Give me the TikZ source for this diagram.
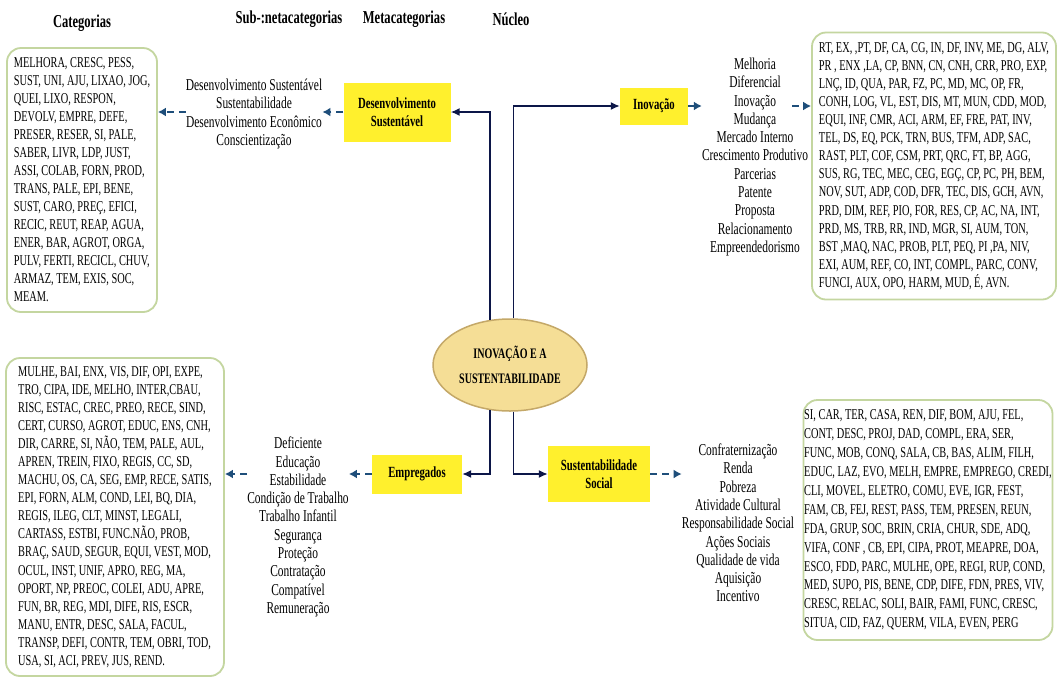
\documentclass[tikz,border=0pt]{standalone}
\usepackage{fontspec}
\setmainfont{Liberation Serif}[FakeStretch=0.69]
\usetikzlibrary{arrows.meta,shapes.geometric}

\definecolor{amarelo}{RGB}{255,240,45}
\definecolor{bege}{RGB}{245,222,150}
\definecolor{begeBorda}{RGB}{196,168,104}
\definecolor{verdeBorda}{RGB}{196,214,160}
\definecolor{azulEscuro}{RGB}{12,22,72}
\definecolor{azulSeta}{RGB}{30,78,122}

\newcommand{\fonteLista}[1]{\fontsize{15}{#1}\selectfont}

\tikzset{
  categoria/.style={draw=verdeBorda, line width=1.8pt, rounded corners=14pt, fill=white, align=left, inner sep=0pt},
  meta/.style={fill=amarelo, align=center, inner sep=0pt, font=\fontsize{15.5}{18}\selectfont\bfseries},
  subcat/.style={align=center, inner sep=0pt, font=\fontsize{16.6}{18.3}\selectfont},
  titulo/.style={font=\fontsize{18.2}{20}\selectfont\bfseries},
  elo/.style={draw=azulEscuro, line width=1.5pt, -{Latex[length=9pt,width=8pt]}},
  seta/.style={draw=azulSeta, line width=2pt, dash pattern=on 7pt off 5pt, -{Latex[length=8pt,width=9pt]}},
}

\begin{document}
\begin{tikzpicture}[x=1pt,y=-1pt]
\fill[white] (0,0) rectangle (1060,678);
\useasboundingbox (0,0) rectangle (1060,678);

% titulos
\node[titulo] (tCat) at (82,23) {Categorias};
\node[titulo] (tSub) at (289,19) {Sub-:netacategorias};
\node[titulo] (tMeta) at (404,19) {Metacategorias};
\node[titulo] (tNucleo) at (511,19) {Núcleo};

% nucleo
\node[ellipse, draw=begeBorda, line width=1.5pt, fill=bege, minimum width=154pt, minimum height=92pt, inner sep=0pt, align=center, font=\fontsize{14.5}{25}\selectfont\bfseries] (nucleo) at (510,365) {INOVAÇÃO E A\\SUSTENTABILIDADE};

% metacategorias
\node[meta, minimum width=107pt, minimum height=59pt] (desenv) at (397,112) {Desenvolvimento\\Sustentável};
\node[meta, minimum width=68pt, minimum height=37pt] (inov) at (654,106) {Inovação};
\node[meta, minimum width=90pt, minimum height=39pt] (empreg) at (417,474) {Empregados};
\node[meta, minimum width=102pt, minimum height=56pt] (sustsoc) at (599,474) {Sustentabilidade\\Social};

% sub-metacategorias
\node[subcat] (subDesenv) at (254,114) {Desenvolvimento Sustentável\\Sustentabilidade\\Desenvolvimento Econômico\\Conscientização};
\node[subcat] (subInov) at (755,157) {Melhoria\\Diferencial\\Inovação\\Mudança\\Mercado Interno\\Crescimento Produtivo\\Parcerias\\Patente\\Proposta\\Relacionamento\\Empreendedorismo};
\node[subcat] (subEmpreg) at (298,527) {Deficiente\\Educação\\Estabilidade\\Condição de Trabalho\\Trabalho Infantil\\Segurança\\Proteção\\Contratação\\Compatível\\Remuneração};
\node[subcat] (subSust) at (738,523) {Confraternização\\Renda\\Pobreza\\Atividade Cultural\\Responsabilidade Social\\Ações Sociais\\Qualidade de vida\\Aquisição\\Incentivo};

% categorias
\node[categoria, minimum width=150pt, minimum height=264pt, font=\fonteLista{18}] (catDesenv) at (82,180) {MELHORA, CRESC, PESS,\\SUST,  UNI, AJU, LIXAO, JOG,\\QUEI, LIXO, RESPON,\\DEVOLV, EMPRE, DEFE,\\PRESER, RESER, SI, PALE,\\SABER, LIVR, LDP, JUST,\\ASSI, COLAB, FORN, PROD,\\TRANS, PALE, EPI, BENE,\\SUST, CARO, PREÇ, EFICI,\\RECIC, REUT, REAP, AGUA,\\ENER, BAR, AGROT, ORGA,\\PULV, FERTI, RECICL, CHUV,\\ARMAZ,  TEM, EXIS, SOC,\\MEAM.};
\node[categoria, minimum width=244pt, minimum height=267pt, font=\fonteLista{18.1}] (catInov) at (934,166) {RT, EX, ,PT, DF, CA, CG, IN, DF, INV, ME, DG, ALV,\\PR , ENX ,LA, CP, BNN, CN, CNH, CRR, PRO, EXP,\\LNÇ, ID, QUA, PAR, FZ, PC, MD, MC,  OP, FR,\\CONH, LOG, VL, EST, DIS, MT, MUN, CDD, MOD,\\EQUI, INF, CMR, ACI, ARM, EF, FRE, PAT, INV,\\TEL, DS, EQ, PCK, TRN, BUS, TFM, ADP, SAC,\\RAST, PLT, COF, CSM, PRT, QRC, FT, BP, AGG,\\SUS, RG, TEC, MEC, CEG, EGÇ, CP, PC, PH, BEM,\\NOV, SUT, ADP, COD, DFR, TEC, DIS, GCH, AVN,\\PRD, DIM, REF, PIO, FOR,  RES, CP, AC,  NA, INT,\\PRD, MS,  TRB, RR, IND, MGR, SI, AUM, TON,\\BST ,MAQ,  NAC, PROB, PLT,  PEQ,  PI ,PA, NIV,\\EXI, AUM, REF, CO, INT, COMPL, PARC, CONV,\\FUNCI, AUX, OPO,  HARM, MUD, É, AVN.};
\node[categoria, minimum width=218pt, minimum height=318pt, font=\fonteLista{18.06}] (catEmpreg) at (115,517) {MULHE, BAI, ENX, VIS, DIF, OPI, EXPE,\\TRO, CIPA, IDE, MELHO, INTER,CBAU,\\RISC, ESTAC, CREC, PREO, RECE, SIND,\\CERT, CURSO, AGROT, EDUC, ENS, CNH,\\DIR, CARRE, SI, NÃO, TEM,  PALE, AUL,\\APREN, TREIN, FIXO, REGIS, CC, SD,\\MACHU, OS, CA, SEG, EMP, RECE, SATIS,\\EPI, FORN, ALM, COND, LEI, BQ, DIA,\\REGIS, ILEG, CLT, MINST, LEGALI,\\CARTASS, ESTBI, FUNC.NÃO, PROB,\\BRAÇ, SAUD,  SEGUR, EQUI, VEST, MOD,\\OCUL, INST, UNIF, APRO, REG, MA,\\OPORT, NP,  PREOC, COLEI, ADU, APRE,\\FUN, BR,  REG, MDI, DIFE, RIS, ESCR,\\MANU, ENTR, DESC, SALA, FACUL,\\TRANSP, DEFI, CONTR, TEM, OBRI, TOD,\\USA, SI, ACI, PREV, JUS, REND.};
\node[categoria, minimum width=249pt, minimum height=240pt, font=\fonteLista{18.9}] (catSust) at (928,520) {SI, CAR, TER, CASA, REN, DIF, BOM, AJU, FEL,\\CONT, DESC, PROJ, DAD,  COMPL, ERA, SER,\\FUNC,  MOB, CONQ, SALA, CB, BAS, ALIM, FILH,\\EDUC, LAZ, EVO, MELH, EMPRE, EMPREGO, CREDI,\\CLI,  MOVEL, ELETRO, COMU, EVE, IGR, FEST,\\FAM, CB, FEJ, REST, PASS, TEM, PRESEN, REUN,\\FDA, GRUP, SOC, BRIN, CRIA, CHUR, SDE, ADQ,\\VIFA, CONF , CB, EPI, CIPA, PROT, MEAPRE, DOA,\\ESCO, FDD, PARC, MULHE, OPE, REGI, RUP, COND,\\MED, SUPO, PIS, BENE, CDP, DIFE, FDN, PRES,  VIV,\\CRESC, RELAC, SOLI, BAIR, FAMI, FUNC,  CRESC,\\SITUA, CID, FAZ, QUERM, VILA, EVEN, PERG};

% ligacoes do nucleo
\draw[elo] (nucleo.114) |- (desenv.east);
\draw[elo] (nucleo.86) |- (inov.west);
\draw[elo] (nucleo.246) |- (empreg.east);
\draw[elo] (nucleo.274) |- (sustsoc.west);

% setas tracejadas
\draw[seta] (desenv.west) -- (subDesenv.east |- desenv.west);
\draw[seta] (subDesenv.west |- desenv.west) -- (catDesenv.east |- desenv.west);
\draw[seta] (inov.east) -- (subInov.west |- inov.east);
\draw[seta] ([xshift=-16pt]subInov.east |- inov.east) -- (catInov.west |- inov.east);
\draw[seta] (empreg.west) -- (subEmpreg.east |- empreg.west);
\draw[seta] (subEmpreg.west |- empreg.west) -- (catEmpreg.east |- empreg.west);
\draw[seta] (sustsoc.east) -- (subSust.west |- sustsoc.east);
\end{tikzpicture}
\end{document}
